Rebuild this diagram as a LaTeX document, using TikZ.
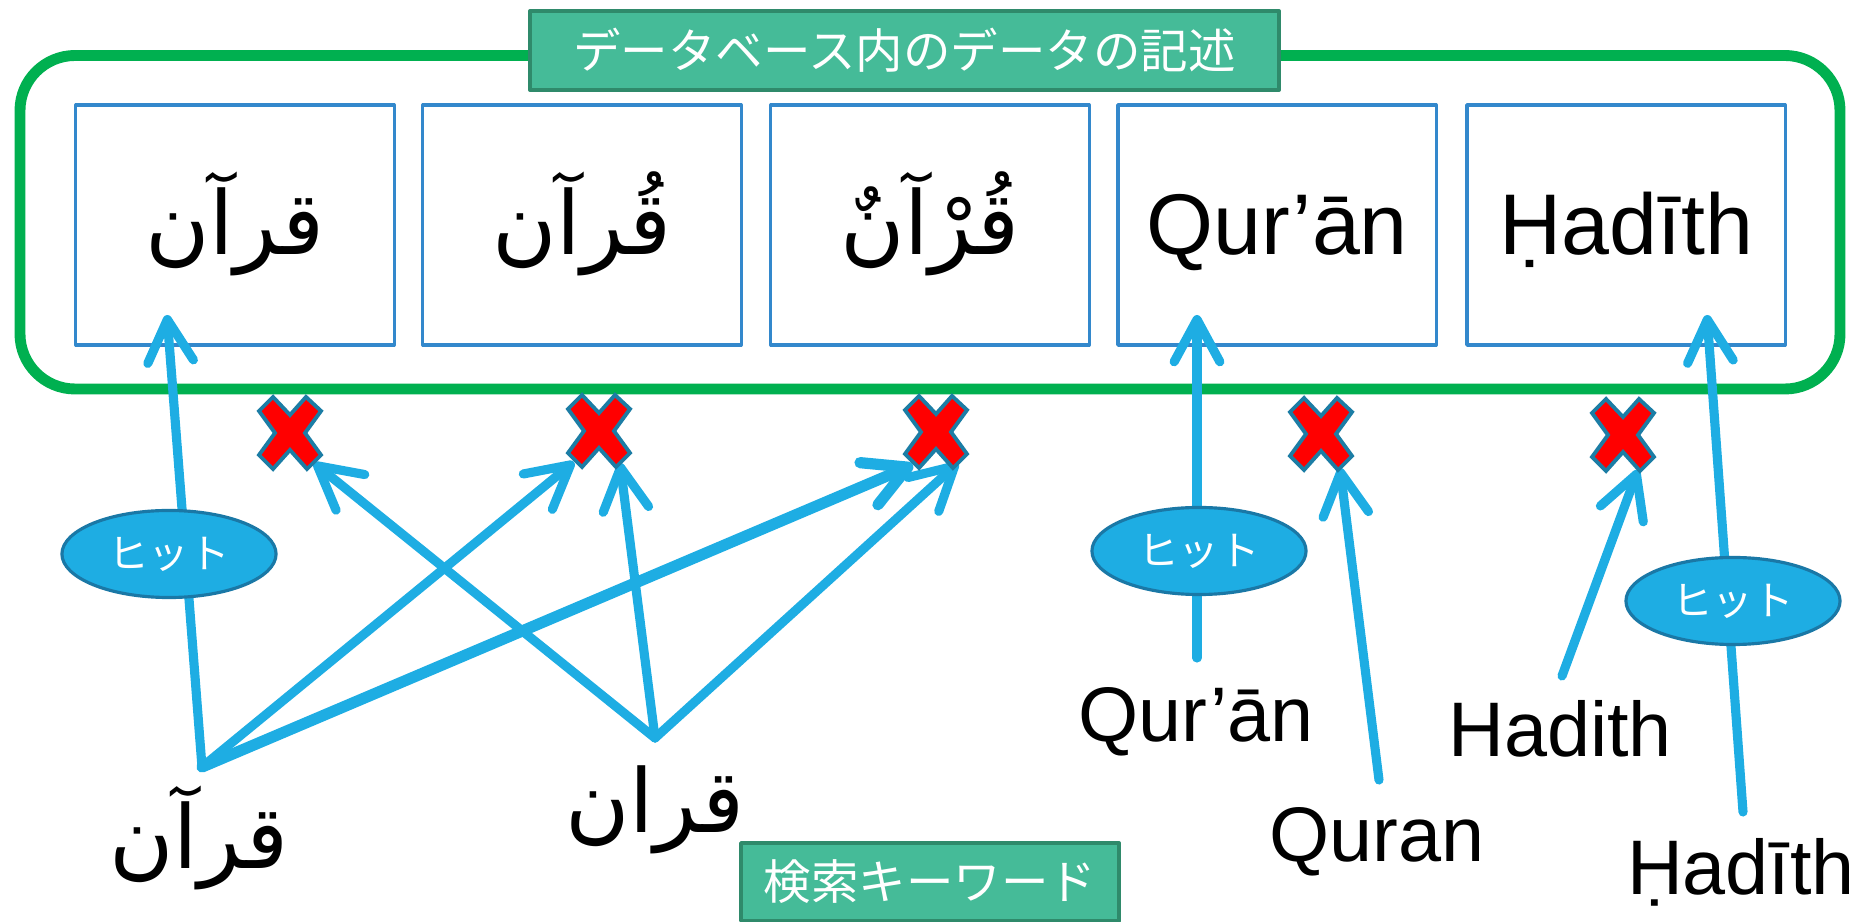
\documentclass[tikz,border=0pt]{standalone}
\usepackage{fontspec}
\setmainfont{Liberation Sans}
\newfontfamily\jpfont{Noto Sans CJK JP}
\newfontfamily\arabicfont[Script=Arabic]{DejaVu Sans}
\TeXXeTstate=1
\usetikzlibrary{arrows.meta,shapes.geometric}

\definecolor{framegreen}{HTML}{00B050}
\definecolor{tagfill}{HTML}{45BB98}
\definecolor{tagline}{HTML}{2F8A6B}
\definecolor{boxblue}{HTML}{3388CC}
\definecolor{arrowblue}{HTML}{1EADE3}
\definecolor{hitline}{HTML}{1A78A6}
\definecolor{xline}{HTML}{1C7DA5}

\tikzset{
  tag/.style={draw=tagline, line width=1pt, fill=tagfill, text=white,
    font=\jpfont\fontsize{13.5}{16}\selectfont, inner sep=0pt},
  entry/.style={draw=boxblue, line width=0.9pt, minimum width=3.18cm,
    minimum height=2.4cm, inner sep=0pt, text height=18pt, text depth=1pt},
  search/.style={draw=arrowblue, line width=2.6pt,
    -{Straight Barb[length=12pt,width=13pt,round]}},
  hit/.style={ellipse, draw=hitline, line width=0.9pt, fill=arrowblue,
    text=white, font=\jpfont\fontsize{11.5}{13}\selectfont,
    minimum width=2.14cm, minimum height=0.87cm, inner sep=0pt},
  nohit/.style={fill=red, draw=xline, line width=1.1pt, line join=miter},
  arab/.style={font=\arabicfont\fontsize{25}{29}\selectfont},
  latin/.style={font=\fontsize{24.5}{28}\selectfont},
  keyword/.style={font=\fontsize{22}{26}\selectfont, anchor=base},
}

\begin{document}
\begin{tikzpicture}[x=0.01cm,y=-0.01cm,line join=round,line cap=round]
  \useasboundingbox (0,0) rectangle (1854,922);

  % frame of the database
  \draw[framegreen, line width=3.1pt, rounded corners=0.55cm]
    (20,55.5) rectangle (1840,389);
  \node[tag, minimum width=7.49cm, minimum height=0.79cm] (dbtag)
    at (904.5,50.5) {データベース内のデータの記述};

  % stored entries
  \node[entry, arab] (b1) at (235,225) {\beginR قرآن\endR};
  \node[entry, arab] (b2) at (582,225) {\beginR قُرآن\endR};
  \node[entry, arab] (b3) at (930,225) {\beginR قُرْآنٌ\endR};
  \node[entry, latin] (b4) at (1277,225) {Qur’ān};
  \node[entry, latin] (b5) at (1626,225) {Ḥadīth};

  % search keywords
  \node[arab] (qA) at (199,838) {\beginR قرآن\endR};
  \node[arab] (qB) at (655,810) {\beginR قران\endR};
  \node[keyword] (qC) at (1196,742) {Qur’ān};
  \node[keyword] (qD) at (1377,862) {Quran};
  \node[keyword] (qE) at (1560,757) {Hadith};
  \node[keyword] (qF) at (1741,895) {Ḥadīth};
  \node[tag, minimum width=3.78cm, minimum height=0.78cm] (kwtag)
    at (930,882) {検索キーワード};

  % start and end of the arrows
  \coordinate (kA) at (202,767);
  \coordinate (kB) at (655,738);
  \coordinate (kC) at (1197,658);
  \coordinate (kD) at (1379,780);
  \coordinate (kE) at (1562,676);
  \coordinate (kF) at (1743,812);

  \coordinate (b1in) at (167,315);
  \coordinate (b4in) at (1197,315);
  \coordinate (b5in) at (1707,315);
  \coordinate (x1R) at (314,463);
  \coordinate (x2L) at (574,462);
  \coordinate (x2R) at (620,463);
  \coordinate (x3L) at (913,465);
  \coordinate (x3R) at (958,463);
  \coordinate (x4R) at (1340,468);
  \coordinate (x5R) at (1638,470);

  \draw[search] (kA) -- (b1in);
  \draw[search] (kA) -- (x2L);
  \draw[search, line width=3.2pt] (kA) -- (x3L);
  \draw[search] (kB) -- (x1R);
  \draw[search] (kB) -- (x2R);
  \draw[search] (kB) -- (x3R);
  \draw[search] (kC) -- (b4in);
  \draw[search] (kD) -- (x4R);
  \draw[search] (kE) -- (x5R);
  \draw[search] (kF) -- (b5in);

  % hits
  \node[hit] (h1) at (169,554) {ヒット};
  \node[hit] (h2) at (1199,551) {ヒット};
  \node[hit] (h3) at (1733,601) {ヒット};

  % no hit
  \foreach \cx/\cy in {290/433, 599/431, 936/432, 1321/434, 1623/435}
    \filldraw[nohit, shift={(\cx,\cy)}]
      (-31,-22)--(-17,-36)--(0,-18)--(16,-36)--(31,-22)--(15,0)
      --(31,22)--(17,36)--(0,17)--(-17,36)--(-31,22)--(-15,0)--cycle;
\end{tikzpicture}
\end{document}
